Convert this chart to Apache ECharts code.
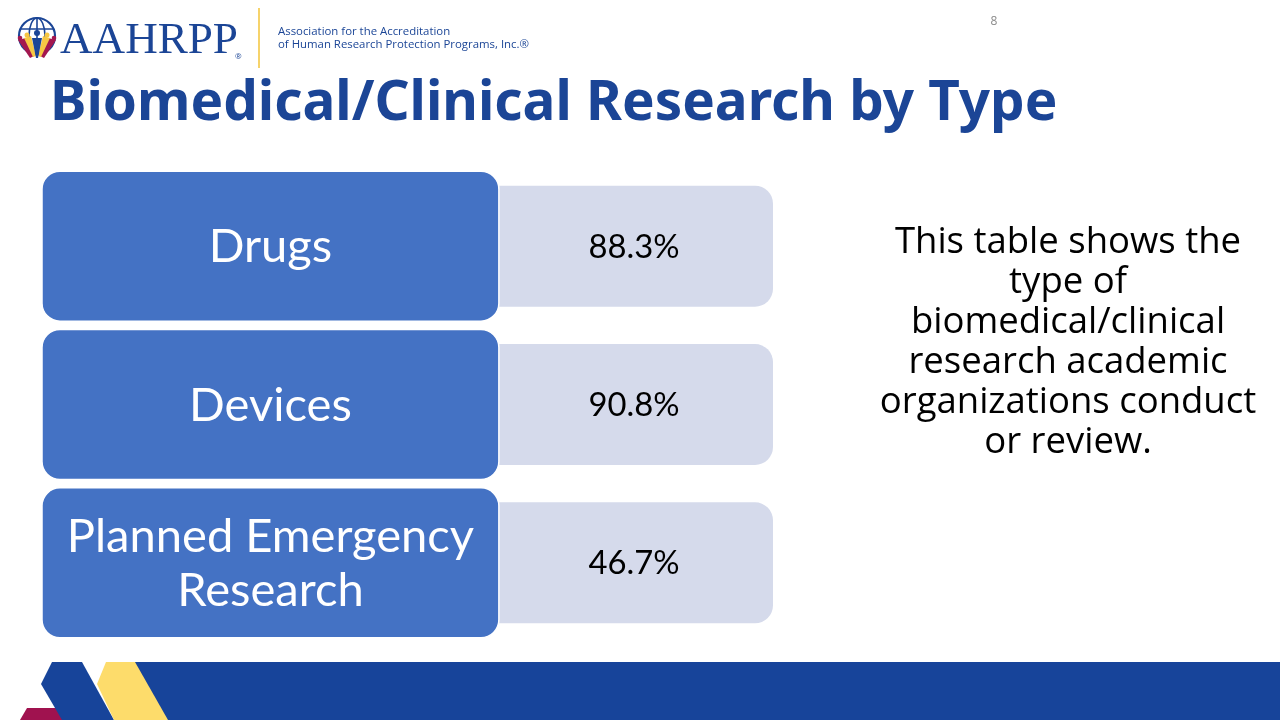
<!DOCTYPE html>
<html><head><meta charset="utf-8">
<script src="https://cdn.jsdelivr.net/npm/echarts@6/dist/echarts.min.js"></script>
<style>html,body{margin:0;padding:0;background:#fff}#chart{width:1280px;height:720px}</style>
</head><body><div id="chart"></div>
<script>
// ---- data ----
const categories = ['Drugs', 'Devices', 'Planned Emergency\nResearch'];
const values = [88.3, 90.8, 46.7];
const valueLabels = ['88.3%', '90.8%', '46.7%'];
const titleText = 'Biomedical/Clinical Research by Type';
const noteLines = ['This table shows the', 'type of', 'biomedical/clinical', 'research academic', 'organizations conduct', 'or review.'];
const pageNumber = '8';
const logoName = 'AAHRPP';
const logoLines = ['Association for the Accreditation', 'of Human Research Protection Programs, Inc.\u00AE'];

// ---- helpers: fit font size to a target width ----
const mctx = document.createElement('canvas').getContext('2d');
function fit(text, family, weight, target) {
  mctx.font = weight + ' 100px ' + family;
  return Math.round(100 * target / mctx.measureText(text).width * 10) / 10;
}
const DARK = '#1B4596';
const boxFont = 'Lato';
const labelSize = fit('Planned Emergency', boxFont, 'normal', 407);
const valueSize = fit('88.3%', boxFont, 'normal', 91);
const titleSize = fit(titleText, 'Noto Sans', 'bold', 1007);
const noteSize = fit('organizations conduct', 'Open Sans', 'normal', 376);
const logoSize = fit(logoName, 'Liberation Serif', 'normal', 178);
const smallSize = fit(logoLines[0], 'Open Sans', 'normal', 173);

const chart = echarts.init(document.getElementById('chart'), null, {renderer: 'canvas'});
const option = {
  backgroundColor: '#ffffff',
  animation: false,
  grid: {left: 42, right: 507, top: 167, bottom: 78},
  xAxis: {type: 'value', min: 0, max: 1, show: false},
  yAxis: {type: 'category', data: categories, inverse: true, show: false},
  series: [{
    type: 'custom',
    data: values.map((v, i) => [i, v]),
    renderItem: function (params, api) {
      const i = api.value(0);
      const l = api.coord([0, i]);
      const r = api.coord([1, i]);
      const band = api.size([0, 1])[1];
      const w = r[0] - l[0];
      const blueW = w * 0.625;
      const bH = band * 0.947, lH = band * 0.764;
      const cy = l[1];
      return {
        type: 'group',
        children: [
          {type: 'rect', shape: {x: l[0] + blueW - 30, y: cy - lH / 2, width: w - blueW + 30, height: lH, r: [0, 18, 18, 0]},
           style: {fill: '#D5DAEB'}},
          {type: 'rect', shape: {x: l[0], y: cy - bH / 2, width: blueW, height: bH, r: 18},
           style: {fill: '#4472C4', stroke: '#ffffff', lineWidth: 1.5}},
          {type: 'text', style: {text: categories[i], x: l[0] + blueW / 2, y: cy + 1, align: 'center', verticalAlign: 'middle',
            fill: '#ffffff', fontSize: labelSize, fontFamily: boxFont, lineHeight: 54}},
          {type: 'text', style: {text: valueLabels[i], x: l[0] + blueW + (w - blueW) / 2 - 2, y: cy + 1, align: 'center', verticalAlign: 'middle',
            fill: '#000000', fontSize: valueSize, fontFamily: boxFont}}
        ]
      };
    }
  }],
  graphic: [
    // title
    {type: 'text', left: 50, top: 77, style: {text: titleText, fill: DARK, fontSize: titleSize, fontWeight: 'bold', fontFamily: 'Noto Sans'}},
    // note
    {type: 'text', x: 1068, y: 343, style: {text: noteLines.join('\n'), align: 'center', verticalAlign: 'middle', fill: '#000',
      fontSize: noteSize, fontFamily: 'Open Sans', lineHeight: 40}},
    // page number
    {type: 'text', x: 994, y: 22, style: {text: pageNumber, align: 'center', verticalAlign: 'middle', fill: '#8a8a8a', fontSize: 12, fontFamily: 'Open Sans'}},
    // logo globe
    {type: 'circle', shape: {cx: 37, cy: 36, r: 18}, style: {fill: 'none', stroke: DARK, lineWidth: 2.2}},
    {type: 'ellipse', shape: {cx: 37, cy: 36, rx: 8, ry: 18}, style: {fill: 'none', stroke: DARK, lineWidth: 1.6}},
    {type: 'line', shape: {x1: 37, y1: 18, x2: 37, y2: 54}, style: {stroke: DARK, lineWidth: 1.6}},
    {type: 'line', shape: {x1: 20, y1: 29, x2: 54, y2: 29}, style: {stroke: DARK, lineWidth: 1.6}},
    {type: 'polygon', shape: {points: [[18, 40], [26, 38], [34, 56], [30, 58]]}, style: {fill: '#A3174F'}},
    {type: 'polygon', shape: {points: [[56, 40], [48, 38], [40, 56], [44, 58]]}, style: {fill: '#A3174F'}},
    {type: 'polygon', shape: {points: [[24, 38], [31, 36], [36, 56], [33, 57]]}, style: {fill: '#F6C744'}},
    {type: 'polygon', shape: {points: [[50, 38], [43, 36], [38, 56], [41, 57]]}, style: {fill: '#F6C744'}},
    {type: 'polygon', shape: {points: [[32, 38], [42, 38], [38, 58], [36, 58]]}, style: {fill: DARK}},
    {type: 'circle', shape: {cx: 37, cy: 33, r: 3}, style: {fill: DARK}},
    {type: 'circle', shape: {cx: 27, cy: 35, r: 2.5}, style: {fill: '#F6C744'}},
    {type: 'circle', shape: {cx: 47, cy: 35, r: 2.5}, style: {fill: '#F6C744'}},
    {type: 'circle', shape: {cx: 20, cy: 38, r: 2.3}, style: {fill: '#A3174F'}},
    {type: 'circle', shape: {cx: 54, cy: 38, r: 2.3}, style: {fill: '#A3174F'}},
    // logo text
    {type: 'text', x: 60, y: 41, style: {text: logoName, verticalAlign: 'middle', fill: DARK, fontSize: logoSize, fontFamily: 'Liberation Serif'}},
    {type: 'text', x: 235, y: 57, style: {text: '\u00AE', verticalAlign: 'middle', fill: DARK, fontSize: 8, fontFamily: 'Open Sans'}},
    {type: 'line', shape: {x1: 259, y1: 8, x2: 259, y2: 68}, style: {stroke: '#F6D36B', lineWidth: 2}},
    {type: 'text', x: 278, y: 32, style: {text: logoLines[0], verticalAlign: 'middle', fill: DARK, fontSize: smallSize, fontFamily: 'Open Sans'}},
    {type: 'text', x: 278, y: 45, style: {text: logoLines[1], verticalAlign: 'middle', fill: DARK, fontSize: smallSize, fontFamily: 'Open Sans'}},
    // bottom band decoration
    {type: 'rect', shape: {x: 125, y: 662, width: 1155, height: 58}, style: {fill: '#17449A'}},
    {type: 'polygon', shape: {points: [[27, 708], [60, 708], [66, 720], [20, 720]]}, style: {fill: '#A0124F'}},
    {type: 'polygon', shape: {points: [[52, 662], [82, 662], [114, 720], [62, 720], [41, 684]]}, style: {fill: '#17449A'}},
    {type: 'polygon', shape: {points: [[106, 662], [135, 662], [168, 720], [114, 720], [97, 684]]}, style: {fill: '#FDDC6B'}}
  ]
};
chart.setOption(option);
</script></body></html>
